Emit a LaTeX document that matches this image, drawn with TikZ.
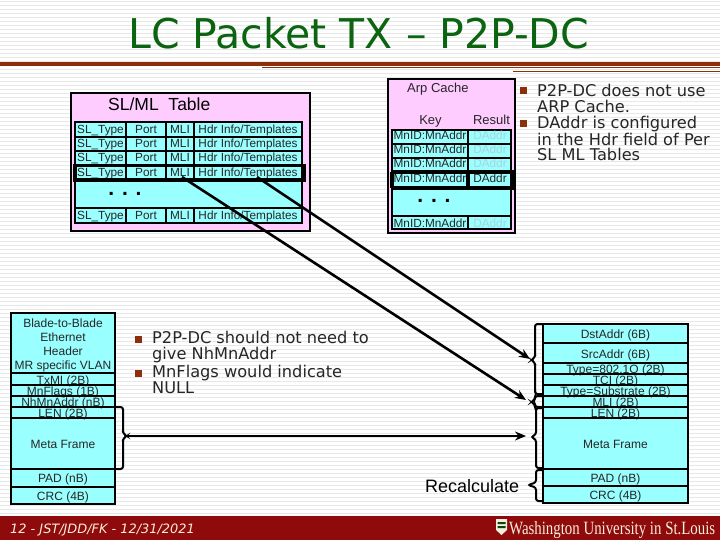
\documentclass[tikz,border=0pt]{standalone}
\usepackage{fontspec}
\setmainfont{Liberation Sans}
\newfontfamily\titlefont{DejaVu Sans}
\newfontfamily\logofont{Liberation Serif}
\usetikzlibrary{arrows.meta}
\definecolor{cyanfill}{HTML}{99FFFF}
\definecolor{pinkfill}{HTML}{FFCCFF}
\definecolor{rulered}{HTML}{8E2F0C}
\definecolor{titlegreen}{HTML}{0B6410}
\definecolor{barred}{HTML}{8F0A0A}
\definecolor{stripe}{HTML}{E7E9E9}
\definecolor{dimtext}{HTML}{A9D4DC}
\definecolor{cream}{HTML}{F6EEDC}
\newcommand\szf[1]{\fontsize{#1}{#1}\selectfont}
\tikzset{
  box/.style={draw=black,line width=2.5pt},
  rowline/.style={draw=black,line width=2pt},
  cell/.style={inner sep=0pt,anchor=base,font=\szf{11.8},text=black!85},
  dimcell/.style={cell,text=dimtext},
  fieldtxt/.style={inner sep=0pt,anchor=base,font=\szf{12},text=black!85},
  bullettxt/.style={inner sep=0pt,anchor=north west,align=left,text=black!85,font=\titlefont\fontsize{16.2}{15.6}\selectfont},
  bulletmark/.style={fill=rulered,inner sep=0pt,minimum size=7pt},
  hl/.style={draw=black,line width=3.6pt},
  link/.style={draw=black,line width=2.6pt,-{Stealth[length=11pt,width=9pt]}},
  bracket/.style={draw=black,line width=2pt,rounded corners=2.5pt},
  dots/.style={inner sep=0pt,anchor=base,font=\szf{21}\bfseries},
}
% #1 spine x, #2 open x, #3 y top, #4 y bottom, #5 tip x, #6 tip y
\newcommand\bracketshape[6]{\draw[bracket] (#2,#3)--(#1,#3)--(#1,#6-2.5)--(#5,#6)--(#1,#6+2.5)--(#1,#4)--(#2,#4);}
\begin{document}
\begin{tikzpicture}[x=1pt,y=-1pt]
\useasboundingbox (0,0) rectangle (720,540);
\fill[white] (0,0) rectangle (720,540);
\foreach \y in {1,5,...,513} \fill[stripe] (0,\y) rectangle (720,\y+1.2);

% title
\node[inner sep=0pt,anchor=base west,text=titlegreen] (title) at (128,49)
  {\titlefont\szf{41}LC Packet TX – P2P-DC};
\fill[rulered] (0,62) rectangle (720,66);
\fill[rulered] (262,67.5) rectangle (720,68.5);
\fill[rulered] (513,71) rectangle (720,72);

% SL/ML table
\node[box,fill=pinkfill,minimum width=239pt,minimum height=138pt,inner sep=0pt] (sltable) at (190.5,162) {};
\node[inner sep=0pt,anchor=base west,font=\szf{17.5}] (sltitle) at (108,111) {SL/ML\ \ Table};
\node[draw=black,line width=2pt,fill=cyanfill,minimum width=227pt,minimum height=101pt,inner sep=0pt] (slcells) at (188.5,172.5) {};
\foreach \n/\b in {1/134,2/148,3/162,4/176.5,5/220}{
  \node[cell] (sl\n) at (100.5,\b) {SL\_Type};
  \node[cell] (port\n) at (146,\b) {Port};
  \node[cell] (mli\n) at (180,\b) {MLI};
  \node[cell] (hdr\n) at (248,\b) {Hdr Info/Templates};
}
\node[dots] (sldots) at (125,196) {. . .};
\foreach \y in {137,151,208}{\draw[rowline] (75,\y)--(302,\y);}
\foreach \y/\z in {122/180,208/223}{
  \draw[rowline] (126,\y)--(126,\z);
  \draw[rowline] (166,\y)--(166,\z);
  \draw[rowline] (194,\y)--(194,\z);
}
\draw[hl] (75,165.5) rectangle (304,180);

% Arp cache
\node[box,fill=pinkfill,minimum width=127pt,minimum height=154pt,inner sep=0pt] (arp) at (451.5,156) {};
\node[inner sep=0pt,anchor=base west,font=\szf{13},text=black!85] (arptitle) at (407,92.5) {Arp Cache};
\node[inner sep=0pt,anchor=base,font=\szf{13},text=black!85] (arpkey) at (430.5,125) {Key};
\node[inner sep=0pt,anchor=base,font=\szf{13},text=black!85] (arpres) at (491.5,125) {Result};
\node[draw=black,line width=2pt,fill=cyanfill,minimum width=119pt,minimum height=99pt,inner sep=0pt] (arpcells) at (451.5,179.5) {};
\foreach \n/\b in {1/140,2/154,3/168,4/183,5/227}{
  \node[cell] (key\n) at (430,\b) {MnID:MnAddr};
  \ifnum\n=4 \node[cell] (da\n) at (490,\b) {DAddr};
  \else \node[dimcell] (da\n) at (490,\b) {DAddr};\fi
}
\node[dots] (arpdots) at (434,203) {. . .};
\foreach \y in {144,158,216}{\draw[rowline] (392,\y)--(511,\y);}
\draw[rowline] (468,130)--(468,172);
\draw[rowline] (468,216)--(468,229);
\draw[hl] (392,172)--(514,172) (392,188)--(514,188) (392,172)--(392,188) (468,172)--(468,188) (514,172)--(514,188);

% bullets upper right
\node[bulletmark] (b1) at (523,91) {};
\node[bulletmark] (b2) at (523,124) {};
\node[bullettxt] (t1) at (537,84) {P2P-DC does not use\\ARP Cache.};
\node[bullettxt] (t2) at (537,116) {DAddr is configured\\in the Hdr field of Per\\SL ML Tables};

% bullets middle
\node[bulletmark] (b3) at (138,339) {};
\node[bulletmark] (b4) at (138,373) {};
\node[bullettxt] (t3) at (152,331) {P2P-DC should not need to\\give NhMnAddr};
\node[bullettxt] (t4) at (152,365) {MnFlags would indicate\\NULL};

% left frame
\node[box,fill=cyanfill,minimum width=104pt,minimum height=191pt,inner sep=0pt] (lf) at (63,408.5) {};
\node[fieldtxt] (lf1) at (63,327) {Blade-to-Blade};
\node[fieldtxt] (lf2) at (63,341) {Ethernet};
\node[fieldtxt] (lf3) at (63,355) {Header};
\node[fieldtxt] (lf4) at (63,369) {MR specific VLAN};
\node[fieldtxt] (lf5) at (63,384) {TxMI (2B)};
\node[fieldtxt] (lf6) at (63,395) {MnFlags (1B)};
\node[fieldtxt] (lf7) at (63,406) {NhMnAddr (nB)};
\node[fieldtxt] (lf8) at (63,417) {LEN (2B)};
\node[fieldtxt] (lf9) at (63,448) {Meta Frame};
\node[fieldtxt] (lf10) at (63,482) {PAD (nB)};
\node[fieldtxt] (lf11) at (63,500) {CRC (4B)};
\foreach \y in {373,385,396,407,418,469,487}{\draw[rowline] (11,\y)--(115,\y);}

% right frame
\node[box,fill=cyanfill,minimum width=145pt,minimum height=179pt,inner sep=0pt] (rf) at (615.5,413.5) {};
\node[fieldtxt] (rf1) at (615.5,338) {DstAddr (6B)};
\node[fieldtxt] (rf2) at (615.5,358) {SrcAddr (6B)};
\node[fieldtxt] (rf3) at (615.5,373) {Type=802.1Q (2B)};
\node[fieldtxt] (rf4) at (615.5,384) {TCI (2B)};
\node[fieldtxt] (rf5) at (615.5,395) {Type=Substrate (2B)};
\node[fieldtxt] (rf6) at (615.5,406) {MLI (2B)};
\node[fieldtxt] (rf7) at (615.5,417) {LEN (2B)};
\node[fieldtxt] (rf8) at (615.5,448) {Meta Frame};
\node[fieldtxt] (rf9) at (615.5,482) {PAD (nB)};
\node[fieldtxt] (rf10) at (615.5,499) {CRC (4B)};
\foreach \y in {343,363,374,385,396,407,418,469,486}{\draw[rowline] (543,\y)--(688,\y);}

% braces
\bracketshape{123}{116}{407}{469}{127}{436}
\bracketshape{535}{542}{324}{394}{531}{360}
\bracketshape{535}{542}{396}{407}{531}{402}
\bracketshape{536}{542}{408}{468}{531}{437}
\bracketshape{536}{542}{470}{501}{528}{485}

% connectors
\coordinate (mlisrc) at (182,177);
\coordinate (hdrsrc) at (257,177);
\coordinate (metasrc) at (127,436);
\coordinate (toDst) at (530,359);
\coordinate (toMli) at (526,400);
\coordinate (toMeta) at (526,436);
\draw[link] (hdrsrc)--(toDst);
\draw[link] (mlisrc)--(toMli);
\draw[link] (metasrc)--(toMeta);

\node[inner sep=0pt,anchor=base west,font=\szf{18}] (recalc) at (425,492) {Recalculate};

% footer
\fill[barred] (0,516) rectangle (720,540);
\node[inner sep=0pt,anchor=base west,text=cream,font=\titlefont\itshape\szf{12.9}] (foot) at (10,533) {12 - JST/JDD/FK - 12/31/2021};
\fill[cream] (496,519) rectangle (507,530) -- (507,530) -- (501.5,535) -- (496,530) -- cycle;
\fill[titlegreen!70!black] (497.5,522) rectangle (505.5,524) (497.5,526) rectangle (505.5,528);
\node[inner sep=0pt,anchor=base west,text=cream] (wustl) at (509,534)
  {\resizebox{206pt}{13pt}{\logofont\szf{18}Washington University in St.Louis}};
\end{tikzpicture}
\end{document}
